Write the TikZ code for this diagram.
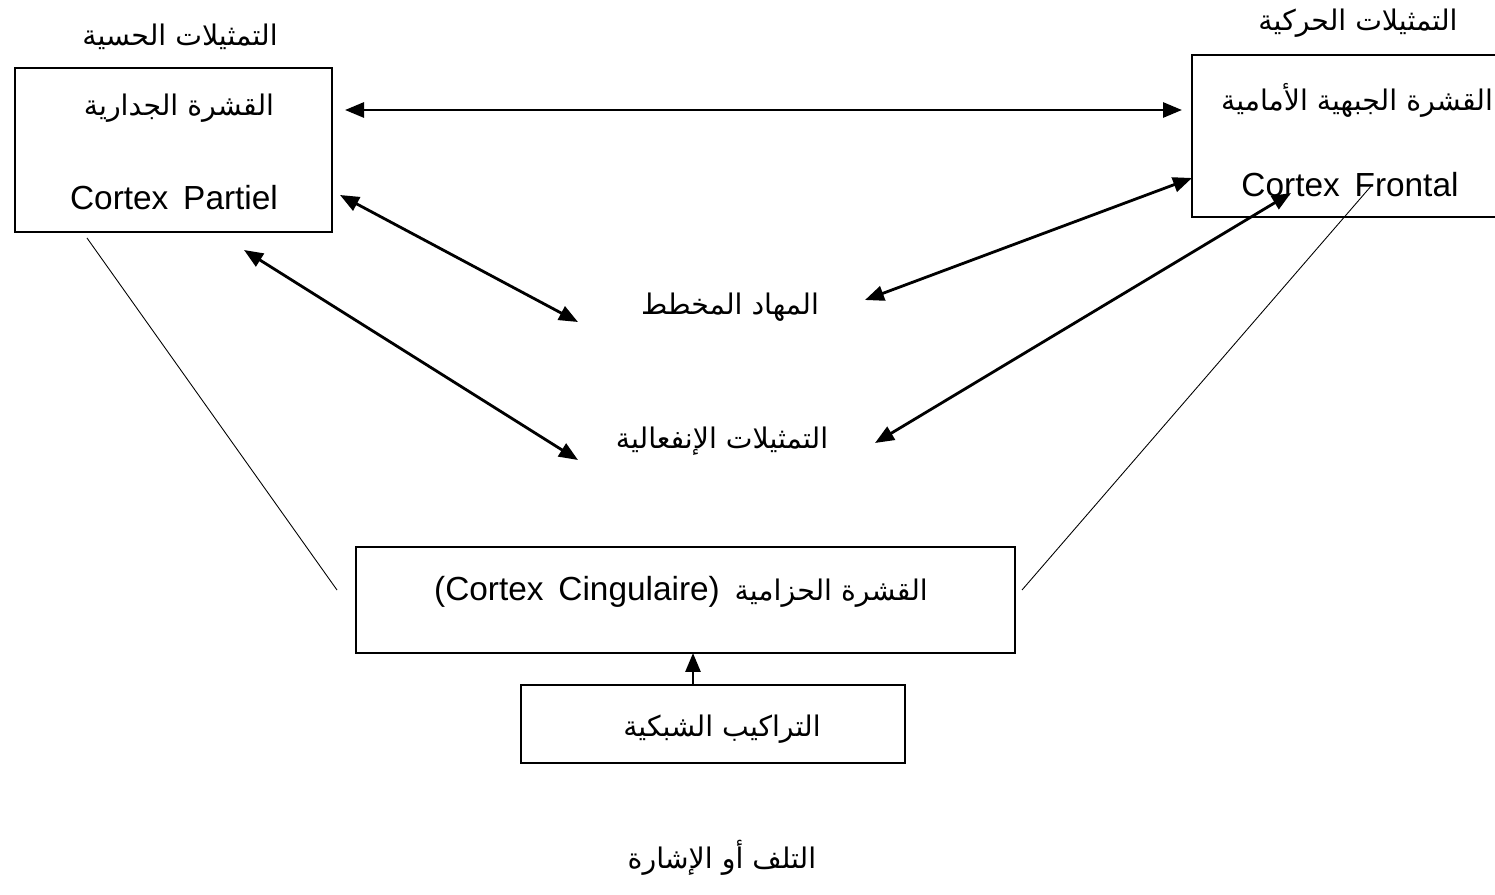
\documentclass[tikz,border=0pt]{standalone}
\usepackage{fontspec}
\setmainfont{Liberation Sans}
\newfontfamily\arabicfont[Script=Arabic,Scale=0.85]{DejaVu Sans}
\TeXXeTstate=1
\usetikzlibrary{arrows.meta}
\newcommand{\ar}[1]{{\arabicfont\beginR #1\endR}}
\begin{document}
\begin{tikzpicture}[x=0.02cm, y=-0.02cm,
  box/.style={draw, line width=1.1pt, inner sep=0pt},
  txt/.style={font=\fontsize{19}{22}\selectfont, inner sep=0pt},
  tip/.style={},
  link/.style={line width=1.6pt, {Triangle[length=0.38cm,width=0.3cm]}-{Triangle[length=0.38cm,width=0.3cm]}},
  uplink/.style={line width=1.6pt, -{Triangle[length=0.38cm,width=0.3cm]}},
  thin/.style={line width=0.5pt}]
\useasboundingbox (0,0) rectangle (1495,895);
\clip (0,0) rectangle (1495,895);

% boxes
\draw[box] (15,68) rectangle (332,232);
\draw[box] (1192,55) rectangle (1500,217);
\draw[box] (356,547) rectangle (1015,653);
\draw[box] (521,685) rectangle (905,763);
\coordinate (cingB) at (693,653);
\coordinate (retT) at (693,685);

% labels
\node[txt] (sens) at (180,37) {\ar{التمثيلات الحسية}};
\node[txt] (motor) at (1358,23) {\ar{التمثيلات الحركية}};
\node[txt] (par) at (179,108) {\ar{القشرة الجدارية}};
\node[txt] (parL) at (174,198) {Cortex\, Partiel};
\node[txt] (fro) at (1357,100) {\ar{القشرة الجبهية الأمامية}};
\node[txt] (froL) at (1350,185) {Cortex\, Frontal};
\node[txt] (stri) at (730,307) {\ar{المهاد المخطط}};
\node[txt] (emo) at (722,441) {\ar{التمثيلات الإنفعالية}};
\node[txt] (cing) at (681,592) {(Cortex\, Cingulaire)\, \ar{القشرة الحزامية}};
\node[txt] (ret) at (722,729) {\ar{التراكيب الشبكية}};
\node[txt] (dmg) at (722,858) {\ar{التلف أو الإشارة}};

% arrow ends
\coordinate (a1) at (345,110);
\coordinate (a2) at (1182,110);
\coordinate (b1) at (340,195);
\coordinate (b2) at (578,322);
\coordinate (c1) at (244,250);
\coordinate (c2) at (578,460);
\coordinate (d1) at (1192,178);
\coordinate (d2) at (865,300);
\coordinate (e1) at (1291,193);
\coordinate (e2) at (875,443);
\coordinate (f1) at (87,238);
\coordinate (f2) at (337,590);
\coordinate (g1) at (1022,590);
\coordinate (g2) at (1372,185);

\draw[link] (a1) -- (a2);
\draw[link] (b1) -- (b2);
\draw[link] (c1) -- (c2);
\draw[link] (d1) -- (d2);
\draw[link] (e1) -- (e2);
\draw[thin] (f1) -- (f2);
\draw[thin] (g1) -- (g2);
\draw[uplink] (retT) -- (cingB);
\end{tikzpicture}
\end{document}
